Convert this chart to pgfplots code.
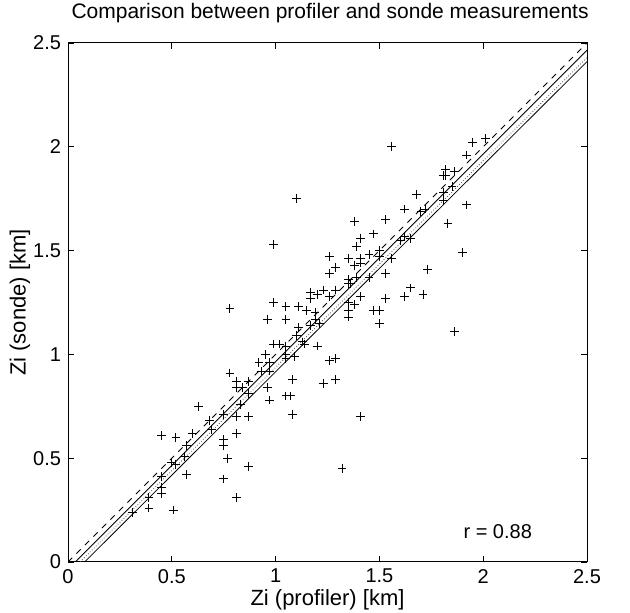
\documentclass[border=0pt]{standalone}
\usepackage{fontspec}
\setmainfont{Liberation Sans}
\usepackage{pgfplots}
\pgfplotsset{compat=1.18}
\begin{document}
\begin{tikzpicture}
\begin{axis}[
  scale only axis,
  width=259.5pt, height=259.5pt,
  xmin=0, xmax=2.5, ymin=0, ymax=2.5,
  xtick={0,0.5,1,1.5,2,2.5},
  ytick={0,0.5,1,1.5,2,2.5},
  tick align=inside,
  major tick length=3pt,
  tick style={black, line width=0.4pt},
  axis line style={black, line width=0.5pt},
  /pgf/number format/assume math mode=true,
  ticklabel style={font=\fontsize{10}{12}\selectfont},
  xlabel={Zi (profiler) [km]},
  ylabel={Zi (sonde) [km]},
  xlabel style={font=\fontsize{11}{13}\selectfont, at={(axis description cs:0.5,-0.073)}, anchor=center},
  ylabel style={font=\fontsize{11}{13}\selectfont, at={(axis description cs:-0.0925,0.5)}, anchor=center, rotate=0},
  clip=true,
]
% reference lines
\addplot[black, line width=0.4pt, dash pattern=on 3pt off 3pt] coordinates {(0,0) (2.5,2.5)};
\addplot[black, line width=0.4pt] coordinates {(0.035,0) (2.5,2.465)};
\addplot[black!70, line width=0.4pt, densely dotted] coordinates {(0.058,0) (2.5,2.43)};
\addplot[black, line width=0.4pt] coordinates {(0.08,0) (2.5,2.41)};
% data
\addplot[only marks, mark=+, mark size=2.2pt, black, line width=0.5pt] coordinates {
(0.31,0.24) (0.39,0.26) (0.51,0.25) (0.39,0.31) (0.45,0.33) (0.45,0.36) (0.45,0.41)
(0.57,0.42) (0.50,0.48) (0.52,0.47) (0.45,0.61) (0.52,0.60) (0.56,0.51) (0.57,0.56)
(0.60,0.62) (0.63,0.75) (0.68,0.68) (0.69,0.64) (0.75,0.71) (0.75,0.59) (0.75,0.56)
(0.77,0.50) (0.75,0.40) (0.81,0.31) (0.81,0.62) (0.87,0.46) (0.81,0.70) (0.87,0.70)
(0.78,0.91) (0.81,0.87) (0.81,0.84) (0.87,0.87) (0.84,0.84) (0.87,0.81) (0.83,0.76)
(0.96,0.84) (0.97,0.78) (0.92,0.96) (0.93,0.92) (0.97,0.96) (0.97,0.92) (0.95,1.00)
(0.99,1.05) (1.02,1.05) (1.05,1.04) (1.05,1.00) (1.05,0.98) (1.08,0.88) (1.05,0.80)
(1.07,0.80) (1.08,0.71) (1.10,1.09) (1.13,1.06) (1.14,1.05) (1.09,0.99)
(1.20,1.04) (1.26,0.97) (1.29,0.98) (1.23,0.86) (1.29,0.88) (1.41,0.70) (1.32,0.45)
(1.86,1.11)
(1.10,1.75) (0.99,1.53) (0.78,1.22) (0.99,1.25) (1.05,1.23) (1.11,1.23) (1.15,1.21)
(0.96,1.17) (1.05,1.17) (1.11,1.13)
(1.56,2.00) (1.95,2.02) (2.01,2.04) (1.92,1.96) (1.82,1.89) (1.82,1.86) (1.86,1.88)
(1.81,1.86) (1.85,1.81) (1.81,1.78) (1.81,1.74) (1.92,1.72) (1.83,1.63) (1.68,1.77)
(1.62,1.70) (1.70,1.69) (1.72,1.70) (1.53,1.65) (1.38,1.64) (1.41,1.56) (1.47,1.58)
(1.39,1.52) (1.60,1.55) (1.62,1.57) (1.65,1.56) (1.90,1.49) (1.26,1.47) (1.35,1.46)
(1.41,1.46) (1.45,1.48) (1.50,1.47) (1.50,1.50) (1.56,1.46) (1.29,1.42) (1.26,1.39)
(1.38,1.43) (1.41,1.44) (1.35,1.36) (1.36,1.34) (1.39,1.37) (1.45,1.37) (1.53,1.39)
(1.73,1.41) (1.17,1.30) (1.17,1.27) (1.20,1.29) (1.23,1.31) (1.26,1.28) (1.29,1.31)
(1.35,1.34) (1.35,1.25) (1.38,1.24) (1.41,1.28) (1.53,1.27) (1.62,1.28) (1.65,1.32)
(1.71,1.29) (1.15,1.21) (1.19,1.20) (1.19,1.17) (1.17,1.14) (1.21,1.15) (1.35,1.21)
(1.35,1.18) (1.47,1.21) (1.50,1.21) (1.50,1.15)
};
\node[font=\fontsize{10}{12}\selectfont] at (axis cs:2.07,0.145) {r = 0.88};
\end{axis}
\node[font=\fontsize{10.5}{12}\selectfont, anchor=center] at ([yshift=15pt,xshift=1.3pt]current axis.north) {Comparison between profiler and sonde measurements};
\pgfresetboundingbox
\path ([shift={(-34pt,-25.5pt)}]current axis.south west) rectangle ([shift={(21.5pt,21.5pt)}]current axis.north east);
\end{tikzpicture}
\end{document}
